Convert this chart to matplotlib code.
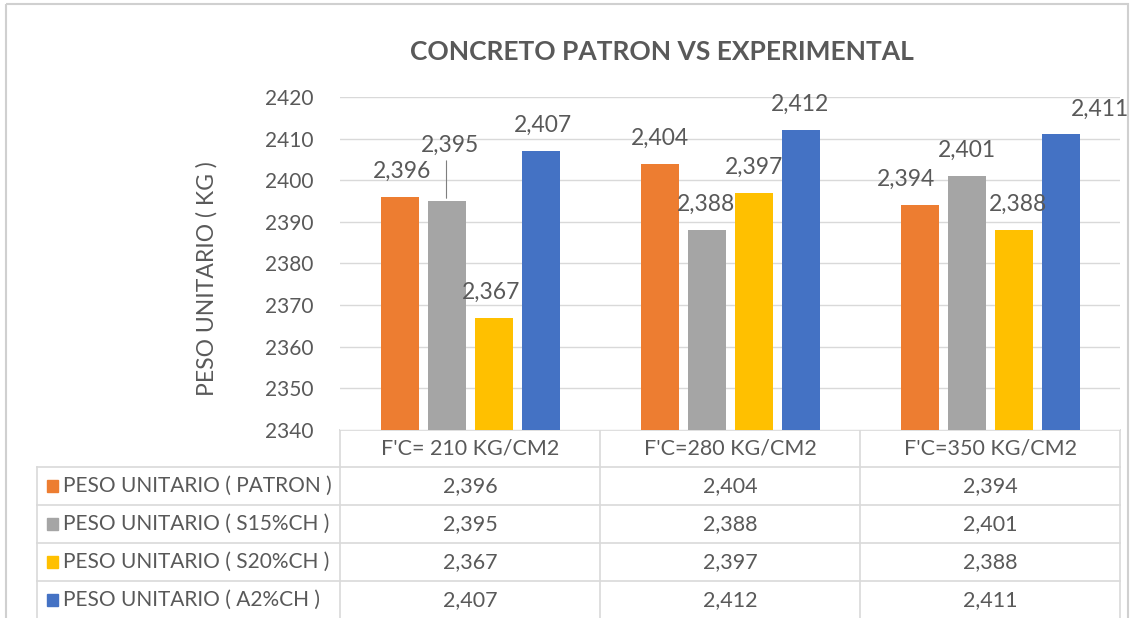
import matplotlib.pyplot as plt
import numpy as np
from matplotlib.patches import Rectangle

categories = ["F'C= 210 KG/CM2", "F'C=280 KG/CM2", "F'C=350 KG/CM2"]
series_names = [
    "PESO UNITARIO ( PATRON )",
    "PESO UNITARIO ( S15%CH )",
    "PESO UNITARIO ( S20%CH )",
    "PESO UNITARIO ( A2%CH )",
]
patron = [2396, 2404, 2394]
s15 = [2395, 2388, 2401]
s20 = [2367, 2397, 2388]
a2 = [2407, 2412, 2411]
series_values = [patron, s15, s20, a2]
colors = ['#ED7D31', '#A5A5A5', '#FFC000', '#4472C4']

# label nudges in pixels (dx, dy) per series / category, Excel style placement
label_dx = [[3, 0, -13], [3, 0, 0], [-2, 0, 4], [2, -1, 40]]
label_dy = [[0, 0, 0], [30, 0, 0], [0, 0, 0], [0, 0, 0]]

txt = '#595959'
grid_c = '#D9D9D9'
plt.rcParams['font.family'] = ['Lato', 'DejaVu Sans']

W, H = 1134, 618
fig = plt.figure(figsize=(W / 100, H / 100), dpi=100)

# overlay axes in pixel coordinates for frame and data table
ov = fig.add_axes([0, 0, 1, 1])
ov.set_xlim(0, W)
ov.set_ylim(H, 0)
ov.axis('off')
ov.add_patch(Rectangle((6, 4), 1122, 640, fill=False, ec='#D0D0D0', lw=1.5))

# bar axes
x0, x1, ytop, ybot = 340, 1120, 97, 430
ax = fig.add_axes([x0 / W, (H - ybot) / H, (x1 - x0) / W, (ybot - ytop) / H])
ax.set_xlim(-0.5, len(categories) - 0.5)
ax.set_ylim(2340, 2420)
ax.set_yticks(np.arange(2340, 2421, 10))
ax.yaxis.grid(True, color=grid_c, lw=1)
ax.set_axisbelow(True)
for s in ax.spines.values():
    s.set_visible(False)
ax.tick_params(axis='y', length=0, labelsize=15, labelcolor=txt, pad=19)
ax.set_xticks([])

slot = 47 / 260
bw = 38 / 260
xs = np.arange(len(categories))
for i, (vals, col) in enumerate(zip(series_values, colors)):
    pos = xs + (i - 1.5) * slot
    ax.bar(pos, vals, width=bw, color=col, zorder=2)
    for j, (p, v) in enumerate(zip(pos, vals)):
        dx, dy = label_dx[i][j], label_dy[i][j]
        ax.annotate(f"{v / 1000:.3f}".replace('.', ','), (p, v),
                    xytext=(dx, 15 + dy), textcoords='offset pixels',
                    ha='center', va='bottom', fontsize=16.5, color=txt,
                    annotation_clip=False)
        if dy > 0:
            ax.annotate('', (p, v), xytext=(0, 15 + dy - 2), textcoords='offset pixels',
                        arrowprops=dict(arrowstyle='-', color='#7F7F7F', lw=0.8),
                        annotation_clip=False)

fig.text(662 / W, 1 - 52 / H, "CONCRETO PATRON VS EXPERIMENTAL", ha='center', va='center',
         fontsize=19, fontweight='bold', color=txt)
fig.text(207 / W, 1 - 279 / H, "PESO UNITARIO ( KG )", ha='center', va='center',
         rotation=90, fontsize=16.5, color=txt)

# data table
cols = [340, 600, 860, 1120]
rows = [430, 467, 505, 543, 581, 619]
tl = 37
lk = dict(color=grid_c, lw=1.2)
ov.plot([cols[0], cols[-1]], [rows[0], rows[0]], **lk)
for r in rows[1:]:
    ov.plot([tl, cols[-1]], [r, r], **lk)
for c in cols:
    ov.plot([c, c], [rows[0], rows[-1]], **lk)
ov.plot([tl, tl], [rows[1], rows[-1]], **lk)

for j, cat in enumerate(categories):
    ov.text((cols[j] + cols[j + 1]) / 2, (rows[0] + rows[1]) / 2, cat,
            ha='center', va='center', fontsize=15.5, color=txt)
for i, (name, vals, col) in enumerate(zip(series_names, series_values, colors)):
    yc = (rows[i + 1] + rows[i + 2]) / 2
    ov.add_patch(Rectangle((47, yc - 6), 11, 12, color=col))
    ov.text(63, yc, name, ha='left', va='center', fontsize=15, color=txt)
    for j, v in enumerate(vals):
        ov.text((cols[j] + cols[j + 1]) / 2, yc, f"{v / 1000:.3f}".replace('.', ','),
                ha='center', va='center', fontsize=15.5, color=txt)

fig.savefig('out.png', dpi=100)
